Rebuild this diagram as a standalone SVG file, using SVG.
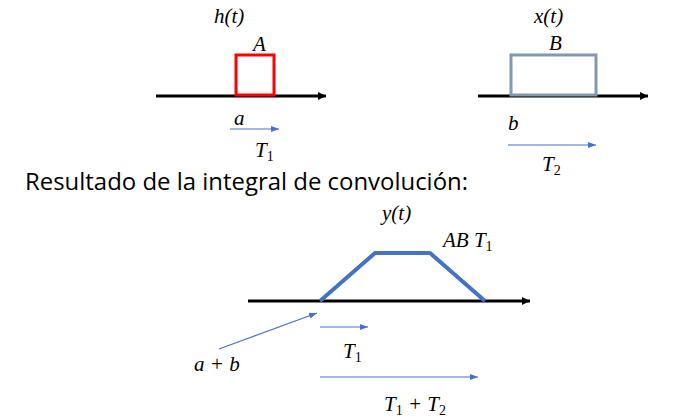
<svg xmlns="http://www.w3.org/2000/svg" width="676" height="418" viewBox="0 0 676 418">
<style>
.m{font-family:"Liberation Serif","DejaVu Serif",serif;font-style:italic;font-size:21px;fill:#000}
.s{font-size:14px;font-style:normal}
.ax{stroke:#000;stroke-width:3;fill:none}
.thin{stroke:#4472C4;stroke-width:1.2;fill:none}
</style>
<defs>
<marker id="ah" markerWidth="10" markerHeight="10" refX="8" refY="5" orient="auto" markerUnits="userSpaceOnUse">
<path d="M0,0 L10,5 L0,10 z" fill="#000" transform="translate(-2,0)"/>
</marker>
<marker id="bh" markerWidth="8" markerHeight="6" refX="8" refY="3" orient="auto" markerUnits="userSpaceOnUse">
<path d="M0,0 L8,3 L0,6 z" fill="#4472C4"/>
</marker>
</defs>
<g id="connectors">
<line class="ax" x1="156" y1="96" x2="326" y2="96" marker-end="url(#ah)"/>
<line class="ax" x1="478" y1="96" x2="648" y2="96" marker-end="url(#ah)"/>
<line class="ax" x1="248" y1="301" x2="530" y2="301" marker-end="url(#ah)"/>
<line class="thin" x1="230" y1="129" x2="279" y2="129" marker-end="url(#bh)"/>
<line class="thin" x1="508" y1="145" x2="596" y2="145" marker-end="url(#bh)"/>
<line class="thin" x1="219" y1="349" x2="317" y2="313" marker-end="url(#bh)"/>
<line class="thin" x1="320" y1="327" x2="368" y2="327" marker-end="url(#bh)"/>
<line class="thin" x1="320" y1="377" x2="478" y2="377" marker-end="url(#bh)"/>
</g>
<g id="h">
<text class="m" x="214" y="23">h(t)</text>
<rect x="236" y="55" width="38" height="40" fill="none" stroke="#FF0000" stroke-width="3"/>
<text class="m" x="253" y="51">A</text>
<text class="m" x="234" y="125">a</text>
<text class="m" x="255" y="157">T<tspan class="s" dy="4">1</tspan></text>
</g>
<g id="x">
<text class="m" x="534" y="23">x(t)</text>
<rect x="511" y="55" width="85" height="40" fill="none" stroke="#8497B0" stroke-width="3"/>
<text class="m" x="549" y="50">B</text>
<text class="m" x="508" y="130">b</text>
<text class="m" x="542" y="171">T<tspan class="s" dy="4">2</tspan></text>
</g>
<text id="title" x="25" y="190" font-family="'Open Sans','Liberation Sans',sans-serif" font-size="23" fill="#000" textLength="443" lengthAdjust="spacingAndGlyphs">Resultado de la integral de convolución:</text>
<g id="y">
<text class="m" x="382" y="220">y(t)</text>
<polyline points="320,301 375,253 430,253 485,301" fill="none" stroke="#4472C4" stroke-width="4" stroke-linejoin="round"/>
<text class="m" x="443" y="247">AB T<tspan class="s" dy="4">1</tspan></text>
<text class="m" x="194" y="371">a + b</text>
<text class="m" x="343" y="358">T<tspan class="s" dy="4">1</tspan></text>
<text class="m" x="384" y="411">T<tspan class="s" dy="4">1</tspan><tspan dy="-4"> + T</tspan><tspan class="s" dy="4">2</tspan></text>
</g>
</svg>
